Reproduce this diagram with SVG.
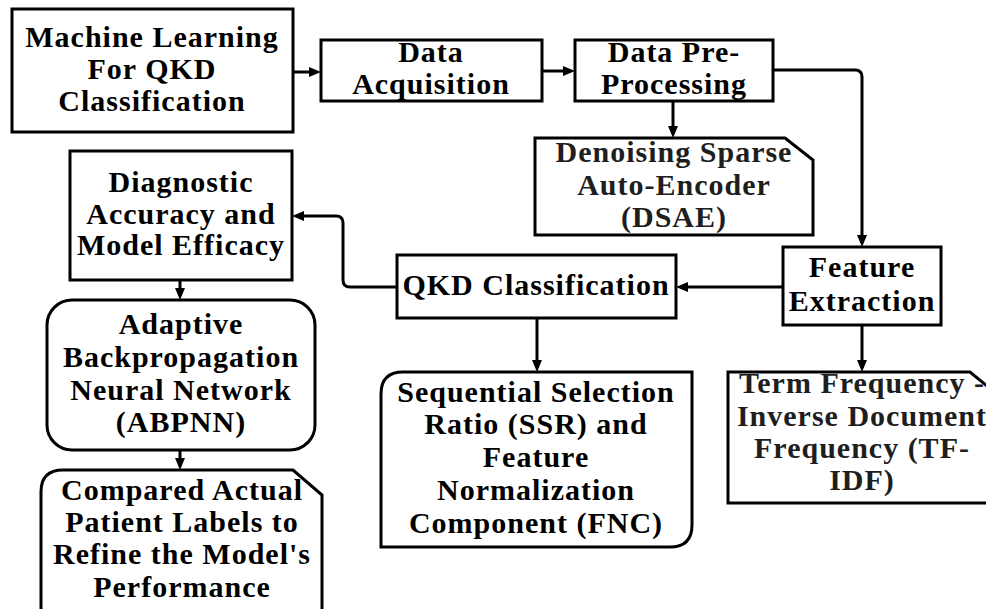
<svg xmlns="http://www.w3.org/2000/svg" width="986" height="609" viewBox="0 0 986 609">
<style>
.box{fill:#fff;stroke:#000;stroke-width:3}
.t{font-family:"Liberation Serif","Times New Roman",serif;font-weight:bold;font-size:30px;text-anchor:middle;letter-spacing:1px;fill:#000}
.g{fill:#1e1e1e}
.c{fill:none;stroke:#000;stroke-width:3;marker-end:url(#ah)}
</style>
<defs>
<marker id="ah" viewBox="0 0 12 10" refX="8" refY="5" markerWidth="12" markerHeight="10" markerUnits="userSpaceOnUse" orient="auto">
<path d="M0,0 L12,5 L0,10 z" fill="#000"/>
</marker>
</defs>
<rect width="986" height="609" fill="#fff"/>
<g id="connectors">
<path class="c" d="M293,72 H317"/>
<path class="c" d="M542,71 H571"/>
<path class="c" d="M773,70 H855 Q862,70 862,77 V243"/>
<path class="c" d="M673,101 V134"/>
<path class="c" d="M783,287 H680"/>
<path class="c" d="M397,287 H350 Q343,287 343,280 V223 Q343,216 336,216 H296"/>
<path class="c" d="M180,280 V296"/>
<path class="c" d="M180,450 V466"/>
<path class="c" d="M537,318 V368"/>
<path class="c" d="M862,325 V368"/>
</g>
<g id="ml">
<rect class="box" x="12" y="9" width="281" height="123"/>
<text class="t" x="152" y="47">Machine Learning</text>
<text class="t" x="152" y="79">For QKD</text>
<text class="t" x="152" y="111">Classification</text>
</g>
<g id="acq">
<rect class="box" x="321" y="40" width="221" height="61"/>
<text class="t" x="431" y="62">Data</text>
<text class="t" x="431" y="94">Acquisition</text>
</g>
<g id="pre">
<rect class="box" x="575" y="40" width="198" height="61"/>
<text class="t" x="674" y="62">Data Pre-</text>
<text class="t" x="674" y="94">Processing</text>
</g>
<g id="dsae">
<path class="box" d="M535,138 H785 L813,160 V235 H535 Z"/>
<text class="t g" x="674" y="162">Denoising Sparse</text>
<text class="t g" x="674" y="195">Auto-Encoder</text>
<text class="t g" x="674" y="227">(DSAE)</text>
</g>
<g id="fe">
<rect class="box" x="783" y="247" width="158" height="78"/>
<text class="t" x="862" y="277">Feature</text>
<text class="t" x="862" y="311">Extraction</text>
</g>
<g id="qkd">
<rect class="box" x="397" y="255" width="279" height="63"/>
<text class="t" x="536" y="295">QKD Classification</text>
</g>
<g id="diag">
<rect class="box" x="70" y="151" width="222" height="129"/>
<text class="t" x="181" y="192">Diagnostic</text>
<text class="t" x="181" y="224">Accuracy and</text>
<text class="t" x="181" y="255">Model Efficacy</text>
</g>
<g id="abpnn">
<rect class="box" x="47" y="300" width="268" height="150" rx="25" ry="25"/>
<text class="t" x="181" y="334">Adaptive</text>
<text class="t" x="181" y="367">Backpropagation</text>
<text class="t" x="181" y="400">Neural Network</text>
<text class="t" x="181" y="432">(ABPNN)</text>
</g>
<g id="compared">
<path class="box" d="M41,615 V492 Q41,470 63,470 H293 L322,495 V615"/>
<text class="t" x="182" y="500">Compared Actual</text>
<text class="t" x="182" y="532">Patient Labels to</text>
<text class="t" x="182" y="564">Refine the Model's</text>
<text class="t" x="182" y="597">Performance</text>
</g>
<g id="ssr">
<path class="box" d="M381,547 V394 Q381,372 403,372 H692 V525 Q692,547 670,547 Z"/>
<text class="t" x="536" y="402">Sequential Selection</text>
<text class="t" x="536" y="434">Ratio (SSR) and</text>
<text class="t" x="536" y="467">Feature</text>
<text class="t" x="536" y="500">Normalization</text>
<text class="t" x="536" y="533">Component (FNC)</text>
</g>
<g id="tfidf">
<path class="box" d="M728,503 V372 H970 L992,390 V503 Z"/>
<text class="t g" x="862" y="393">Term Frequency -</text>
<text class="t g" x="862" y="426">Inverse Document</text>
<text class="t g" x="862" y="458">Frequency (TF-</text>
<text class="t g" x="862" y="490">IDF)</text>
</g>
</svg>
